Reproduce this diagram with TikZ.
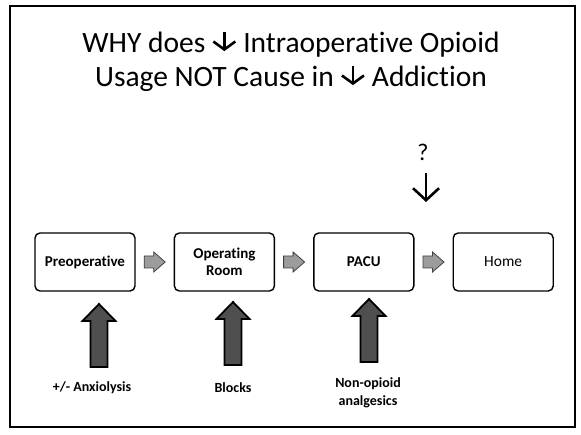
\documentclass[tikz,border=0pt]{standalone}
\usepackage{fontspec}
\setmainfont{Carlito}[Ligatures={NoCommon}]
\usepackage{tikz}
\usetikzlibrary{arrows.meta, positioning}
\definecolor{flowgray}{HTML}{9C9C9C}
\definecolor{pushgray}{HTML}{4F4F4F}
\newcommand{\dnarrow}{\tikz[x=1pt,y=1pt,baseline=-1pt]\draw[line width=2.6pt,-{Straight Barb[length=8pt,width=22pt]}] (0,19) -- (0,0);}

\begin{document}
\begin{tikzpicture}[x=1pt, y=-1pt,
  stagebox/.style={draw, line width=1.4pt, rounded corners=5pt, minimum width=100pt,
    minimum height=58pt, align=center, font=\fontsize{15}{17}\selectfont\bfseries},
  flowarrow/.style={draw=black!75, line width=0.8pt, fill=flowgray},
  pusharrow/.style={draw, line width=1.8pt, fill=pushgray, line join=miter},
  aidlabel/.style={align=center, font=\fontsize{14}{18}\selectfont\bfseries}]
  \useasboundingbox[fill=white] (0,0) rectangle (581,435);
  % slide frame
  \draw[line width=2pt] (10,6) rectangle (575,427);
  % title
  \node[font=\fontsize{29.5}{34}\selectfont, align=center] (title) at (291,61)
    {WHY does \dnarrow{} Intraoperative Opioid\\Usage NOT Cause in \dnarrow{} Addiction};
  % stages
  \node[stagebox] (preop) at (85,262) {Preoperative};
  \node[stagebox, right=38pt of preop] (oproom) {Operating\\Room};
  \node[stagebox, right=38pt of oproom] (pacu) {PACU};
  \node[stagebox, right=38pt of pacu, font=\fontsize{15.5}{18}\selectfont] (home) {Home};
  \foreach \a/\b in {preop/oproom, oproom/pacu, pacu/home} {
    \path (\a) -- coordinate (mid\a) (\b);
    \draw[flowarrow, shift={(mid\a)}] (-10.5,-6) -- (-1,-6) -- (-1,-10) -- (10.5,0)
      -- (-1,10) -- (-1,6) -- (-10.5,6) -- cycle;
  }
  % interventions
  \foreach \x/\y in {99/367, 233/365, 369/362}
    \draw[pusharrow] (\x-8.5,\y) -- (\x-8.5,\y-46) -- (\x-16.5,\y-46) -- (\x,\y-63)
      -- (\x+16.5,\y-46) -- (\x+8.5,\y-46) -- (\x+8.5,\y) -- cycle;
  \node[aidlabel] (anx) at (92,388) {+/- Anxiolysis};
  \node[aidlabel] (blocks) at (233,388) {Blocks};
  \node[aidlabel] (nonop) at (368,393) {Non-opioid\\analgesics};
  % question
  \node[font=\fontsize{24}{24}\selectfont] (qmark) at (423,152) {?};
  \coordinate (qtop) at (426,173);
  \coordinate (qtip) at (426,202);
  \draw[line width=2.6pt, -{Straight Barb[length=12pt,width=26pt]}] (qtop) -- (qtip);
\end{tikzpicture}
\end{document}
